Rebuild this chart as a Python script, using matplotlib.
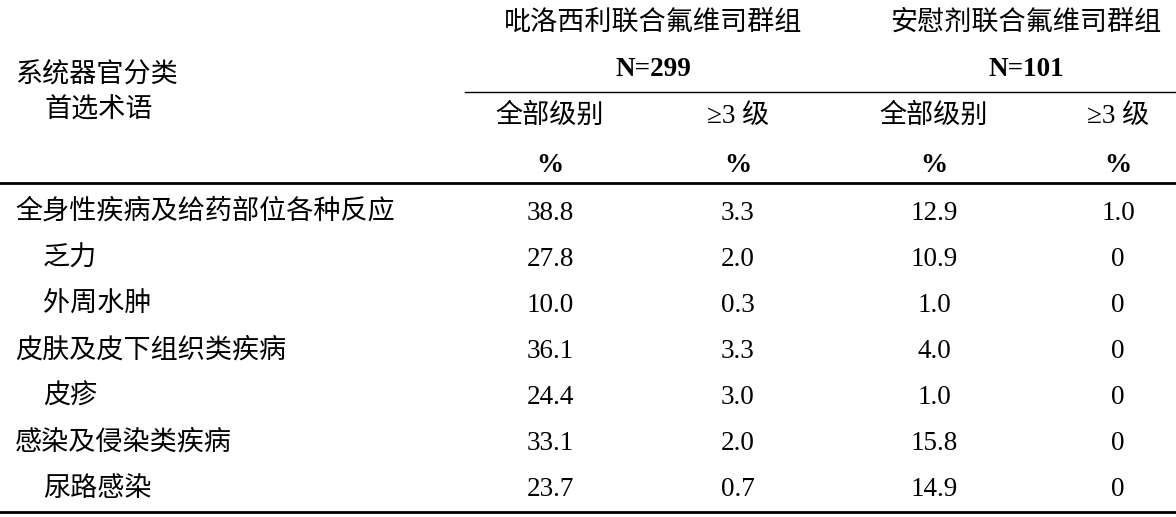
import matplotlib
matplotlib.use("Agg")
import matplotlib.pyplot as plt

groups = ["吡洛西利联合氟维司群组", "安慰剂联合氟维司群组"]
group_n = ["N=299", "N=101"]
sub_headers = ["全部级别", "≥3 级", "全部级别", "≥3 级"]
row_labels = ["全身性疾病及给药部位各种反应", "乏力", "外周水肿", "皮肤及皮下组织类疾病", "皮疹", "感染及侵染类疾病", "尿路感染"]
row_is_category = [True, False, False, True, False, True, False]
values = [
    ["38.8", "3.3", "12.9", "1.0"],
    ["27.8", "2.0", "10.9", "0"],
    ["10.0", "0.3", "1.0", "0"],
    ["36.1", "3.3", "4.0", "0"],
    ["24.4", "3.0", "1.0", "0"],
    ["33.1", "2.0", "15.8", "0"],
    ["23.7", "0.7", "14.9", "0"],
]

W, H = 1176, 517
fig = plt.figure(figsize=(W/100, H/100), dpi=100)
ax = fig.add_axes([0, 0, 1, 1])
ax.set_xlim(0, W); ax.set_ylim(H, 0); ax.axis("off")

CJK = ["Noto Sans CJK SC", "DejaVu Sans"]
MIX = ["Liberation Serif", "Noto Sans CJK SC", "DejaVu Sans"]
fs = 19.5

col_x = [550, 738, 934, 1118]
group_x = [653, 1026]
for g, n, gx in zip(groups, group_n, group_x):
    ax.text(gx, 22, g, ha="center", va="center", fontsize=fs, family=CJK, weight="medium")
    ax.text(gx, 70, n, ha="center", va="center", fontsize=fs, family=MIX, weight="bold")
for s, cx in zip(sub_headers, col_x):
    ax.text(cx, 116, s, ha="center", va="center", fontsize=fs, family=MIX, weight="medium")
    ax.text(cx, 165, "%", ha="center", va="center", fontsize=fs, family=MIX, weight="bold")
ax.text(15, 75, "系统器官分类", ha="left", va="center", fontsize=fs, family=CJK, weight="medium")
ax.text(45, 110, "首选术语", ha="left", va="center", fontsize=fs, family=CJK, weight="medium")

ax.plot([465, W], [92, 92], color="black", lw=1)
ax.plot([0, W], [183, 183], color="black", lw=2)
ax.plot([0, W], [512, 512], color="black", lw=2)

row_y = [211, 258, 304, 350, 396, 442, 488]
for lab, cat, vals, y in zip(row_labels, row_is_category, values, row_y):
    ax.text(15 if cat else 43, y, lab, ha="left", va="center", fontsize=fs, family=CJK,
            weight="medium" if cat else "normal")
    for v, cx in zip(vals, col_x):
        ax.text(cx, y + 2, v, ha="center", va="center", fontsize=fs, family=MIX)

fig.savefig("out.png", dpi=100)
